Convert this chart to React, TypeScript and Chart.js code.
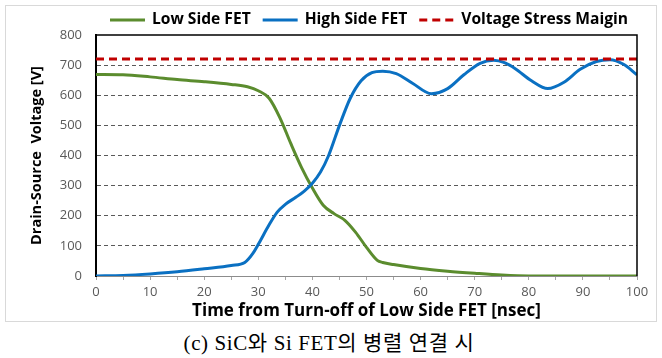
import React, { useEffect, useRef } from "react";
import { Chart, registerables } from "chart.js";

Chart.register(...registerables);

// ---- data ----
const lowSideTime = [0, 5, 10, 15, 20, 25, 28, 30, 32, 34, 36, 38, 40, 42, 44, 46, 48, 50, 52, 53, 55, 60, 65, 70, 75, 80, 90, 100];
const lowSideVoltage = [669, 668, 661, 652, 645, 636, 628, 615, 590, 525, 440, 360, 292, 235, 207, 185, 145, 95, 52, 45, 38, 25, 16, 9, 3, 0, 0, 0];

const highSideTime = [0, 5, 10, 15, 20, 25, 27.5, 29, 30, 32, 33.5, 35, 37, 38.5, 40, 41.5, 43, 45, 47, 49, 51, 53, 55.5, 58.5, 62, 65, 68, 71, 73.5, 75.5, 77.5, 80.5, 83.5, 86.5, 89.5, 92.5, 95, 97.5, 100];
const highSideVoltage = [0, 2, 7, 14, 24, 35, 45, 75, 105, 170, 212, 238, 262, 282, 308, 345, 400, 500, 590, 648, 675, 680, 672, 640, 605, 622, 668, 706, 716, 708, 688, 648, 622, 643, 686, 712, 718, 703, 668];

const marginTime = [0, 100];
const marginVoltage = [720, 720];

const seriesLabels = ["Low Side FET", "High Side FET", "Voltage Stress Maigin"];
const xTickValues = [0, 5, 10, 15, 20, 25, 30, 35, 40, 45, 50, 55, 60, 65, 70, 75, 80, 85, 90, 95, 100];
const xTickLabels = ["0", "", "10", "", "20", "", "30", "", "40", "", "50", "", "60", "", "70", "", "80", "", "90", "", "100"];
const yTickLabels = ["0", "100", "200", "300", "400", "500", "600", "700", "800"];

const xTitle = "Time from Turn-off of Low Side FET [nsec]";
const yTitle = "Drain-Source  Voltage [V]";
const caption = "(c) SiC와 Si FET의 병렬 연결 시";

const FONT = "'Open Sans', Lato, sans-serif";

const zip = (xs: number[], ys: number[]) => xs.map((x, i) => ({ x, y: ys[i] }));

const legendPlugin = {
  id: "customLegend",
  afterDraw(chart: any) {
    const ctx = chart.ctx;
    ctx.save();
    ctx.font = `bold 15.6px ${FONT}`;
    ctx.textBaseline = "middle";
    ctx.textAlign = "left";
    let x = chart.chartArea.left + 14;
    const y = 14;
    chart.data.datasets.forEach((ds: any) => {
      ctx.strokeStyle = ds.borderColor;
      ctx.lineWidth = 3;
      ctx.setLineDash(ds.borderDash || []);
      ctx.beginPath();
      ctx.moveTo(x, y);
      ctx.lineTo(x + 35, y);
      ctx.stroke();
      ctx.setLineDash([]);
      x += 35 + 7;
      ctx.fillStyle = "#000";
      ctx.fillText(ds.label, x, y);
      x += ctx.measureText(ds.label).width + 12;
    });
    ctx.restore();
  },
};

const framePlugin = {
  id: "plotFrame",
  afterDatasetsDraw(chart: any) {
    const { ctx, chartArea } = chart;
    ctx.save();
    ctx.strokeStyle = "#000";
    ctx.lineWidth = 1.5;
    ctx.beginPath();
    ctx.moveTo(chartArea.left, chartArea.top);
    ctx.lineTo(chartArea.right, chartArea.top);
    ctx.lineTo(chartArea.right, chartArea.bottom);
    ctx.stroke();
    ctx.restore();
  },
};

export default function App() {
  const canvasRef = useRef<HTMLCanvasElement | null>(null);

  useEffect(() => {
    if (!canvasRef.current) return;
    const chart = new Chart(canvasRef.current, {
      type: "line",
      data: {
        datasets: [
          {
            label: seriesLabels[0],
            data: zip(lowSideTime, lowSideVoltage),
            borderColor: "#5B8C2E",
            borderWidth: 3,
            pointRadius: 0,
            cubicInterpolationMode: "monotone",
            order: 2,
          },
          {
            label: seriesLabels[1],
            data: zip(highSideTime, highSideVoltage),
            borderColor: "#0A70C2",
            borderWidth: 3,
            pointRadius: 0,
            cubicInterpolationMode: "monotone",
            order: 1,
          },
          {
            label: seriesLabels[2],
            data: zip(marginTime, marginVoltage),
            borderColor: "#C00000",
            borderWidth: 3,
            borderDash: [8, 5],
            pointRadius: 0,
            order: 0,
          },
        ],
      },
      options: {
        animation: false,
        responsive: false,
        layout: { padding: { top: 29, right: 19, left: 0, bottom: 0 } },
        plugins: {
          legend: { display: false },
          tooltip: { enabled: false },
        },
        scales: {
          x: {
            type: "linear",
            min: 0,
            max: 100,
            afterBuildTicks: (scale: any) => {
              scale.ticks = xTickValues.map((v) => ({ value: v }));
            },
            afterFit: (scale: any) => {
              scale.height = 45;
            },
            ticks: {
              autoSkip: false,
              maxRotation: 0,
              padding: 4,
              color: "#595959",
              font: { family: FONT, size: 13 },
              callback: (v: any) => {
                const i = xTickValues.indexOf(Number(v));
                return i >= 0 ? xTickLabels[i] : "";
              },
            },
            grid: {
              drawOnChartArea: false,
              drawTicks: true,
              tickLength: 4,
              color: "#a6a6a6",
            },
            border: { display: true, color: "#8c8c8c", width: 1 },
            title: {
              display: true,
              text: xTitle,
              color: "#000",
              font: { family: FONT, size: 17, weight: "bold" },
              padding: { top: 0, bottom: 0 },
            },
          },
          y: {
            type: "linear",
            min: 0,
            max: 800,
            afterBuildTicks: (scale: any) => {
              scale.ticks = yTickLabels.map((t) => ({ value: Number(t) }));
            },
            afterFit: (scale: any) => {
              scale.width = 90;
            },
            ticks: {
              padding: 14,
              color: "#595959",
              font: { family: FONT, size: 13 },
              callback: (v: any) => {
                const i = yTickLabels.indexOf(String(v));
                return i >= 0 ? yTickLabels[i] : "";
              },
            },
            grid: {
              drawTicks: false,
              color: (c: any) =>
                c.tick && (c.tick.value === 0 || c.tick.value === 800) ? "rgba(0,0,0,0)" : "#595959",
              lineWidth: 1,
            },
            border: { display: true, color: "#000", width: 2, dash: [4, 3] },
            title: {
              display: true,
              text: yTitle,
              color: "#000",
              font: { family: FONT, size: 14.5, weight: "bold" },
              padding: { top: 22, bottom: 0 },
            },
          },
        },
      },
      plugins: [legendPlugin, framePlugin],
    } as any);
    return () => chart.destroy();
  }, []);

  return (
    <div style={{ position: "absolute", left: 0, top: 0, width: 662, height: 358, background: "#fff" }}>
      <div
        style={{
          position: "absolute",
          left: 5,
          top: 5,
          width: 650,
          height: 315,
          border: "1px solid #d9d9d9",
        }}
      >
        <canvas ref={canvasRef} width={650} height={315} style={{ display: "block" }} />
      </div>
      <div
        style={{
          position: "absolute",
          left: 0,
          top: 331,
          width: 658,
          textAlign: "center",
          fontFamily: "'Liberation Serif', 'Noto Sans CJK KR', serif",
          fontSize: 21,
          letterSpacing: "0.6px",
          lineHeight: "24px",
          color: "#000",
        }}
      >
        {caption}
      </div>
    </div>
  );
}
